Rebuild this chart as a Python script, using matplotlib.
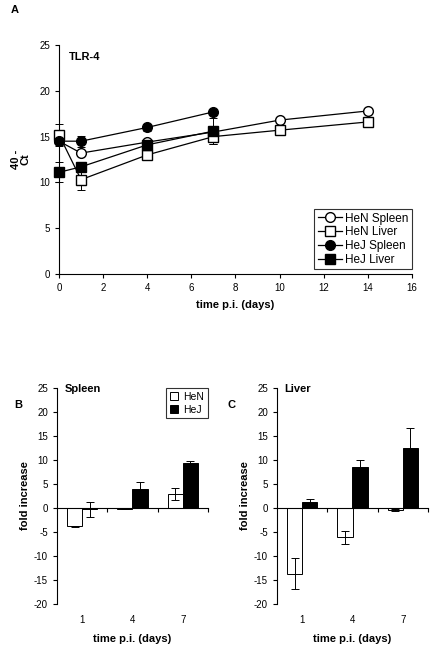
import numpy as np
import matplotlib
matplotlib.use("Agg")
import matplotlib.pyplot as plt
from matplotlib.transforms import blended_transform_factory

plt.rcParams['font.family'] = ['Liberation Sans', 'DejaVu Sans']
plt.rcParams['axes.unicode_minus'] = False

# #############################################################################
# Data

# panel A: TLR-4, 40 - Ct over time
days_spleen_hen = [0, 1, 4, 7, 10, 14]
hen_spleen = [14.5, 13.2, 14.4, 15.5, 16.8, 17.8]
hen_spleen_err = [0.3, 0.3, 0.3, 0.3, 0.2, 0.2]

days_liver_hen = [0, 1, 4, 7, 10, 14]
hen_liver = [15.2, 10.3, 13.0, 15.0, 15.7, 16.6]
hen_liver_err = [1.2, 1.1, 0.3, 0.8, 0.2, 0.2]

days_hej = [0, 1, 4, 7]
hej_spleen = [14.5, 14.5, 16.0, 17.7]
hej_spleen_err = [0.3, 0.6, 0.4, 0.3]
hej_liver = [11.1, 11.7, 14.1, 15.6]
hej_liver_err = [1.1, 0.5, 0.6, 1.4]

# panels B, C: fold increase
bar_days = ['1', '4', '7']
spleen_hen = [-3.8, -0.2, 2.9]
spleen_hen_err = [0.15, 0.1, 1.2]
spleen_hej = [-0.3, 3.9, 9.4]
spleen_hej_err = [1.5, 1.5, 0.4]

liver_hen = [-13.7, -6.1, -0.4]
liver_hen_err = [3.2, 1.3, 0.2]
liver_hej = [1.3, 8.5, 12.6]
liver_hej_err = [0.6, 1.4, 4.1]

# #############################################################################
# Plot

fig = plt.figure(figsize=(4.35, 6.47), dpi=100)

tick_fs = 7
lab_fs = 8

# ---- panel A
axA = fig.add_axes([59/435, 1 - 274/647, 353/435, 229/647])
series = [
    (days_spleen_hen, hen_spleen, hen_spleen_err, 'o', 'white', 'HeN Spleen'),
    (days_liver_hen, hen_liver, hen_liver_err, 's', 'white', 'HeN Liver'),
    (days_hej, hej_spleen, hej_spleen_err, 'o', 'black', 'HeJ Spleen'),
    (days_hej, hej_liver, hej_liver_err, 's', 'black', 'HeJ Liver'),
]
for x, y, e, m, fc, lab in series:
    # error bars first, then the line + marker (used for the legend)
    axA.errorbar(x, y, yerr=e, fmt='none', ecolor='black', elinewidth=0.7,
                 capsize=3, capthick=0.7, clip_on=False, zorder=2)
    axA.plot(x, y, '-' + m, color='black', mfc=fc, mec='black', ms=7, lw=0.9,
             label=lab, clip_on=False, zorder=3)

axA.set_xlim(0, 16)
axA.set_ylim(0, 25)
axA.set_xticks(range(0, 17, 2))
axA.set_yticks(range(0, 26, 5))
axA.tick_params(labelsize=tick_fs, length=3, width=0.8)
for s in ['top', 'right']:
    axA.spines[s].set_visible(False)
axA.set_xlabel('time p.i. (days)', fontsize=lab_fs, fontweight='bold', labelpad=5)
axA.set_ylabel('40 -\nCt', fontsize=lab_fs, fontweight='bold', labelpad=6,
               linespacing=1.0)
axA.text(0.027, 0.97, 'TLR-4', transform=axA.transAxes, fontsize=lab_fs,
         fontweight='bold', va='top')
legA = axA.legend(loc='lower right', fontsize=8.5, frameon=True, fancybox=False,
                  edgecolor='black', handlelength=2.0, handletextpad=0.3,
                  borderpad=0.3, labelspacing=0.15, borderaxespad=0.0,
                  bbox_to_anchor=(1.0, 0.02))
legA.get_frame().set_linewidth(0.8)
fig.text(11/435, 1 - 10/647, 'A', fontsize=8, fontweight='bold', va='center')


def bar_panel(ax, hen, hen_err, hej, hej_err, title, legend):
    x = np.arange(len(bar_days))
    w = 0.3
    ekw = dict(elinewidth=0.7, capthick=0.7)
    ax.bar(x - w/2, hen, w, yerr=hen_err, color='white', edgecolor='black',
           linewidth=0.7, capsize=3, error_kw=ekw, label='HeN', zorder=2)
    ax.bar(x + w/2, hej, w, yerr=hej_err, color='black', edgecolor='black',
           linewidth=0.7, capsize=3, error_kw=ekw, label='HeJ', zorder=2)
    ax.set_xlim(-0.5, len(bar_days) - 0.5)
    ax.set_ylim(-20, 25)
    ax.set_yticks(range(-20, 26, 5))
    ax.tick_params(axis='y', labelsize=tick_fs, length=3, width=0.8)
    for s in ['top', 'right']:
        ax.spines[s].set_visible(False)
    ax.spines['bottom'].set_position(('data', 0))
    ax.set_xticks(x + 0.5)
    ax.tick_params(axis='x', labelbottom=False, length=3, width=0.8)
    tr = blended_transform_factory(ax.transData, ax.transAxes)
    for xi, lab in zip(x, bar_days):
        ax.text(xi, -0.075, lab, transform=tr, ha='center', va='center',
                fontsize=tick_fs)
    ax.text(0.5, -0.16, 'time p.i. (days)', transform=ax.transAxes,
            ha='center', va='center', fontsize=lab_fs, fontweight='bold')
    ax.set_ylabel('fold increase', fontsize=lab_fs, fontweight='bold', labelpad=3)
    ax.text(0.05, 0.995, title, transform=ax.transAxes, fontsize=lab_fs,
            fontweight='bold', va='center')
    if legend:
        leg = ax.legend(loc='upper right', fontsize=7.5, frameon=True,
                        fancybox=False, edgecolor='black', handlelength=0.8,
                        handleheight=0.8, handletextpad=0.5, borderpad=0.35,
                        labelspacing=0.3, borderaxespad=0.0,
                        bbox_to_anchor=(1.0, 1.0))
        leg.get_frame().set_linewidth(0.8)


axB = fig.add_axes([57/435, 1 - 604/647, 151/435, 216/647])
bar_panel(axB, spleen_hen, spleen_hen_err, spleen_hej, spleen_hej_err,
          'Spleen', True)
fig.text(14/435, 1 - 405/647, 'B', fontsize=8, fontweight='bold', va='center')

axC = fig.add_axes([277/435, 1 - 604/647, 151/435, 216/647])
bar_panel(axC, liver_hen, liver_hen_err, liver_hej, liver_hej_err,
          'Liver', False)
fig.text(228/435, 1 - 405/647, 'C', fontsize=8, fontweight='bold', va='center')

fig.savefig('out.png', dpi=100)
